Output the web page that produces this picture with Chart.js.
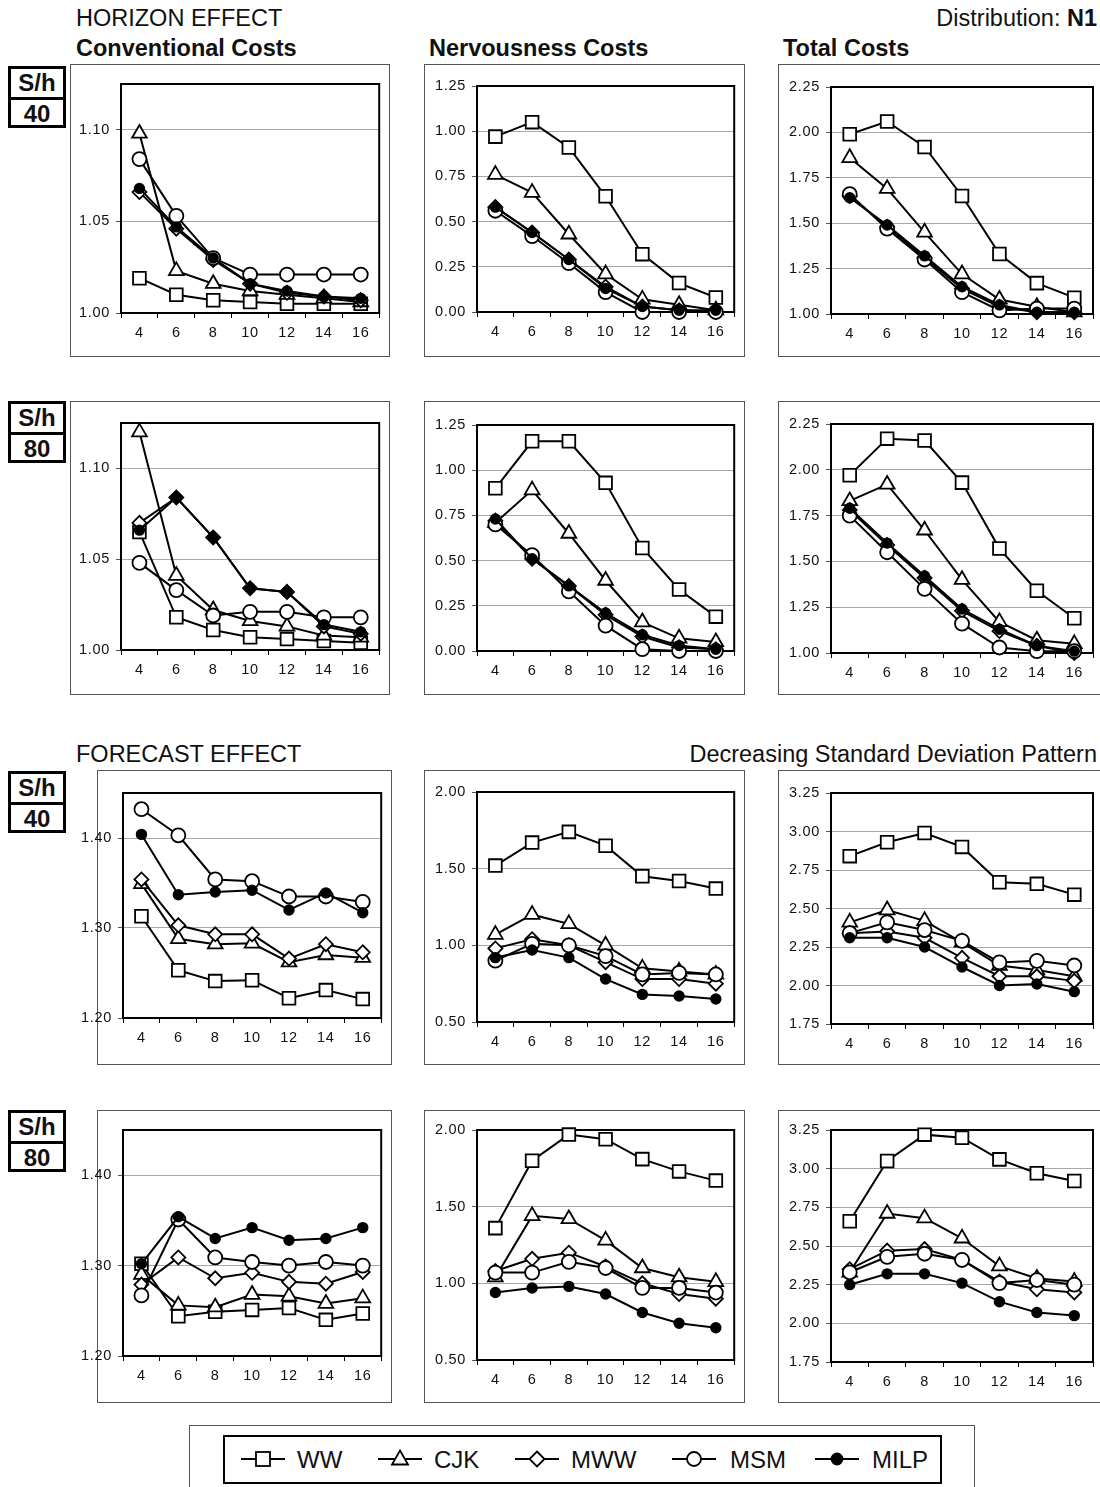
<!DOCTYPE html>
<html>
<head>
<meta charset="utf-8">
<script src="https://cdn.jsdelivr.net/npm/chart.js@4.4.0/dist/chart.umd.min.js"></script>
<style>
  body { margin: 0; width: 1100px; height: 1487px; overflow: hidden; background: #fff; position: relative;
         font-family: "Liberation Sans", Arial, sans-serif; color: #111; }
  .t { position: absolute; font-size: 23.5px; line-height: 1; white-space: nowrap; }
  .b { font-weight: bold; }
  .panel { position: absolute; border: 1px solid #555; box-sizing: border-box; }
  .plot { position: absolute; }
  .sh { position: absolute; left: 8px; width: 58px; height: 62px; border: 3px solid #000; box-sizing: border-box;
        font-weight: bold; font-size: 24px; text-align: center; }
  .sh div { height: 28px; line-height: 28px; }
  .sh div:first-child { border-bottom: 3px solid #000; }
  #legendOuter { position: absolute; left: 189px; top: 1425px; width: 786px; height: 80px; border: 1px solid #555; box-sizing: border-box; }
  #legend { position: absolute; left: 0; top: 1420px; }
</style>
</head>
<body>

<div class="t" style="left:76px;top:7px">HORIZON EFFECT</div>
<div class="t" style="right:3px;top:7px">Distribution: <b>N1</b></div>
<div class="t b" style="left:76px;top:37px">Conventional Costs</div>
<div class="t b" style="left:429px;top:37px">Nervousness Costs</div>
<div class="t b" style="left:783px;top:37px">Total Costs</div>
<div class="t" style="left:76px;top:743px">FORECAST EFFECT</div>
<div class="t" style="right:3px;top:743px">Decreasing Standard Deviation Pattern</div>

<div class="sh" style="top:66px"><div>S/h</div><div>40</div></div>
<div class="sh" style="top:401px"><div>S/h</div><div>80</div></div>
<div class="sh" style="top:771px"><div>S/h</div><div>40</div></div>
<div class="sh" style="top:1110px"><div>S/h</div><div>80</div></div>

<div id="panels"></div>
<div id="legendOuter"></div>
<svg id="legend" width="1100" height="67"></svg>

<script>
// categories (planning horizon) and series
const xLabels = ['4', '6', '8', '10', '12', '14', '16'];
const seriesNames = ['WW', 'CJK', 'MWW', 'MSM', 'MILP'];

// rows: WW, CJK, MWW, MSM, MILP
// horizon effect, S/h 40
const h40Conv = [
  [1.019, 1.010, 1.007, 1.006, 1.005, 1.005, 1.005],
  [1.098, 1.023, 1.016, 1.012, 1.010, 1.008, 1.006],
  [1.066, 1.046, 1.029, 1.016, 1.011, 1.009, 1.007],
  [1.084, 1.053, 1.030, 1.021, 1.021, 1.021, 1.021],
  [1.068, 1.047, 1.030, 1.016, 1.012, 1.009, 1.008]
];
const h40Nerv = [
  [0.97, 1.05, 0.91, 0.64, 0.32, 0.16, 0.08],
  [0.76, 0.66, 0.43, 0.21, 0.07, 0.04, 0.01],
  [0.58, 0.44, 0.29, 0.14, 0.03, 0.01, 0.00],
  [0.56, 0.42, 0.27, 0.11, 0.00, 0.00, 0.00],
  [0.58, 0.44, 0.29, 0.13, 0.03, 0.01, 0.01]
];
const h40Total = [
  [1.99, 2.06, 1.92, 1.65, 1.33, 1.17, 1.09],
  [1.86, 1.69, 1.45, 1.22, 1.08, 1.04, 1.01],
  [1.65, 1.48, 1.31, 1.14, 1.04, 1.01, 1.01],
  [1.66, 1.47, 1.30, 1.12, 1.02, 1.03, 1.03],
  [1.64, 1.49, 1.32, 1.15, 1.05, 1.01, 1.01]
];
// horizon effect, S/h 80
const h80Conv = [
  [1.065, 1.018, 1.011, 1.007, 1.006, 1.005, 1.004],
  [1.120, 1.041, 1.022, 1.016, 1.013, 1.008, 1.007],
  [1.070, 1.084, 1.062, 1.034, 1.032, 1.013, 1.009],
  [1.048, 1.033, 1.019, 1.021, 1.021, 1.018, 1.018],
  [1.066, 1.084, 1.062, 1.034, 1.032, 1.014, 1.010]
];
const h80Nerv = [
  [0.90, 1.16, 1.16, 0.93, 0.57, 0.34, 0.19],
  [0.71, 0.89, 0.65, 0.39, 0.16, 0.07, 0.05],
  [0.72, 0.51, 0.36, 0.20, 0.08, 0.02, 0.01],
  [0.70, 0.53, 0.33, 0.14, 0.01, 0.00, 0.00],
  [0.73, 0.51, 0.36, 0.21, 0.09, 0.03, 0.01]
];
const h80Total = [
  [1.97, 2.17, 2.16, 1.93, 1.57, 1.34, 1.19],
  [1.83, 1.92, 1.67, 1.40, 1.17, 1.07, 1.05],
  [1.78, 1.59, 1.41, 1.23, 1.12, 1.04, 1.00],
  [1.75, 1.55, 1.35, 1.16, 1.03, 1.01, 1.01],
  [1.79, 1.60, 1.42, 1.24, 1.13, 1.04, 1.01]
];
// forecast effect, S/h 40
const f40Conv = [
  [1.313, 1.253, 1.241, 1.242, 1.222, 1.231, 1.221],
  [1.349, 1.288, 1.282, 1.283, 1.262, 1.270, 1.267],
  [1.354, 1.303, 1.293, 1.293, 1.266, 1.282, 1.273],
  [1.432, 1.403, 1.354, 1.352, 1.335, 1.335, 1.329],
  [1.404, 1.337, 1.340, 1.342, 1.320, 1.339, 1.317]
];
const f40Nerv = [
  [1.52, 1.67, 1.74, 1.65, 1.45, 1.42, 1.37],
  [1.07, 1.20, 1.14, 1.00, 0.85, 0.83, 0.81],
  [0.98, 1.04, 1.00, 0.89, 0.78, 0.78, 0.75],
  [0.90, 1.01, 1.00, 0.93, 0.81, 0.82, 0.81],
  [0.92, 0.97, 0.92, 0.78, 0.68, 0.67, 0.65]
];
const f40Total = [
  [2.84, 2.93, 2.99, 2.90, 2.67, 2.66, 2.59],
  [2.41, 2.49, 2.42, 2.28, 2.13, 2.10, 2.06],
  [2.34, 2.35, 2.31, 2.18, 2.06, 2.06, 2.03],
  [2.34, 2.41, 2.36, 2.29, 2.15, 2.16, 2.13],
  [2.31, 2.31, 2.25, 2.12, 2.00, 2.01, 1.96]
];
// forecast effect, S/h 80
const f80Conv = [
  [1.302, 1.244, 1.249, 1.251, 1.253, 1.240, 1.247],
  [1.290, 1.256, 1.254, 1.268, 1.266, 1.258, 1.264],
  [1.279, 1.309, 1.286, 1.292, 1.282, 1.280, 1.293],
  [1.267, 1.351, 1.309, 1.304, 1.300, 1.304, 1.300],
  [1.302, 1.354, 1.330, 1.342, 1.328, 1.330, 1.342]
];
const f80Nerv = [
  [1.36, 1.80, 1.97, 1.94, 1.81, 1.73, 1.67],
  [1.04, 1.44, 1.42, 1.28, 1.10, 1.04, 1.01],
  [1.08, 1.16, 1.20, 1.11, 1.00, 0.93, 0.90],
  [1.07, 1.07, 1.14, 1.10, 0.97, 0.97, 0.94],
  [0.94, 0.97, 0.98, 0.93, 0.81, 0.74, 0.71]
];
const f80Total = [
  [2.66, 3.05, 3.22, 3.20, 3.06, 2.97, 2.92],
  [2.33, 2.71, 2.68, 2.55, 2.37, 2.29, 2.27],
  [2.35, 2.47, 2.48, 2.41, 2.27, 2.22, 2.20],
  [2.33, 2.43, 2.45, 2.41, 2.26, 2.28, 2.25],
  [2.25, 2.32, 2.32, 2.26, 2.14, 2.07, 2.05]
];

// y axis ranges [min, max, step]
const convRangeH = [1.00, 1.125, 0.05];
const nervRangeH = [0.00, 1.25, 0.25];
const totalRangeH = [1.00, 2.25, 0.25];
const convRangeF = [1.20, 1.45, 0.10];
const nervRangeF = [0.50, 2.00, 0.50];
const totalRangeF = [1.75, 3.25, 0.25];

const seriesStyle = {
  WW:   { pointStyle: 'rect',     radius: 9,   fill: '#fff' },
  CJK:  { pointStyle: 'triangle', radius: 8.5, fill: '#fff' },
  MWW:  { pointStyle: 'rectRot',  radius: 7,   fill: '#fff' },
  MSM:  { pointStyle: 'circle',   radius: 7,   fill: '#fff' },
  MILP: { pointStyle: 'circle',   radius: 4.8, fill: '#000' }
};

// panel boxes [x, y, w, h] and plot areas [left, top, right, bottom] (page pixels)
const panels = [
  { data: h40Conv,  range: convRangeH,  box: [70, 64, 320, 293],   plot: [121, 84, 382, 313] },
  { data: h40Nerv,  range: nervRangeH,  box: [424, 64, 321, 293],  plot: [477, 86, 738, 312] },
  { data: h40Total, range: totalRangeH, box: [778, 64, 330, 293],  plot: [831, 87, 1093, 314] },
  { data: h80Conv,  range: convRangeH,  box: [70, 401, 320, 294],  plot: [121, 423, 382, 650] },
  { data: h80Nerv,  range: nervRangeH,  box: [424, 401, 321, 294], plot: [477, 425, 738, 651] },
  { data: h80Total, range: totalRangeH, box: [778, 401, 330, 294], plot: [831, 424, 1093, 653] },
  { data: f40Conv,  range: convRangeF,  box: [97, 770, 295, 295],  plot: [123, 793, 383, 1018] },
  { data: f40Nerv,  range: nervRangeF,  box: [424, 770, 321, 295], plot: [477, 792, 740, 1022] },
  { data: f40Total, range: totalRangeF, box: [778, 770, 330, 295], plot: [831, 793, 1093, 1024] },
  { data: f80Conv,  range: convRangeF,  box: [97, 1110, 295, 293], plot: [123, 1130, 383, 1356] },
  { data: f80Nerv,  range: nervRangeF,  box: [424, 1110, 321, 293], plot: [477, 1130, 740, 1360] },
  { data: f80Total, range: totalRangeF, box: [778, 1110, 330, 293], plot: [831, 1130, 1093, 1362] }
];

// black frame round the plot area, under the markers
const framePlugin = {
  id: 'frame',
  beforeDraw(chart) {
    chart.ctx.letterSpacing = '0.7px';
  },
  beforeDatasetsDraw(chart) {
    const { ctx, chartArea: a } = chart;
    ctx.save();
    ctx.strokeStyle = '#000';
    ctx.lineWidth = 2;
    ctx.strokeRect(a.left, a.top, a.right - a.left, a.bottom - a.top);
    ctx.restore();
  }
};

const tickFont = { family: '"Liberation Sans", Arial, sans-serif', size: 14.5 };
const host = document.getElementById('panels');
const labelRoom = 45; // canvas starts left of the box so y labels may stick out

panels.forEach(function (p) {
  const [bx, by, bw, bh] = p.box;
  const [pl, pt, pr, pb] = p.plot;
  const [yMin, yMax, yStep] = p.range;

  const div = document.createElement('div');
  div.className = 'panel';
  div.style.left = bx + 'px';
  div.style.top = by + 'px';
  div.style.width = bw + 'px';
  div.style.height = bh + 'px';
  host.appendChild(div);

  const cx = bx - labelRoom;
  const cw = bw + labelRoom;
  const canvas = document.createElement('canvas');
  canvas.className = 'plot';
  canvas.width = cw;
  canvas.height = bh;
  canvas.style.left = cx + 'px';
  canvas.style.top = by + 'px';
  canvas.style.width = cw + 'px';
  canvas.style.height = bh + 'px';
  host.appendChild(canvas);

  const yWidth = pl - cx;
  const xHeight = by + bh - pb;

  const datasets = seriesNames.map(function (name, i) {
    const s = seriesStyle[name];
    return {
      label: name,
      data: p.data[i],
      borderColor: '#000',
      borderWidth: 2,
      pointStyle: s.pointStyle,
      pointRadius: s.radius,
      pointBackgroundColor: s.fill,
      pointBorderColor: '#000',
      pointBorderWidth: 1.8,
      tension: 0,
      clip: false,
      order: seriesNames.length - i
    };
  });

  new Chart(canvas.getContext('2d'), {
    type: 'line',
    data: { labels: xLabels, datasets: datasets },
    plugins: [framePlugin],
    options: {
      responsive: false,
      animation: false,
      devicePixelRatio: 1,
      layout: { padding: { top: pt - by, right: cx + cw - pr, left: 0, bottom: 0 } },
      plugins: { legend: { display: false }, tooltip: { enabled: false } },
      scales: {
        x: {
          offset: true,
          grid: { offset: true, drawOnChartArea: false, drawTicks: true, tickLength: 5, color: '#000', lineWidth: 1 },
          border: { display: false },
          ticks: { font: tickFont, color: '#111', padding: 6, maxRotation: 0, autoSkip: false },
          afterFit: function (scale) { scale.height = xHeight; }
        },
        y: {
          min: yMin,
          max: yMax,
          bounds: 'data',
          grid: { color: '#a8a8a8', lineWidth: 1, tickLength: 5, tickColor: '#555' },
          border: { display: false },
          ticks: {
            stepSize: yStep,
            includeBounds: false,
            font: tickFont,
            color: '#111',
            padding: 6,
            callback: function (v) { return Number(v).toFixed(2); }
          },
          afterFit: function (scale) { scale.width = yWidth; }
        }
      }
    }
  });
});

// legend: line with the series marker, then the name
const legendX = [241, 378, 515, 672, 815];
const legendText = [297, 434, 571, 730, 872];
const svg = document.getElementById('legend');
let html = '<rect x="224" y="16" width="717" height="47" fill="none" stroke="#000" stroke-width="2"/>';
seriesNames.forEach(function (name, i) {
  const x0 = legendX[i], x1 = x0 + 44, cx = (x0 + x1) / 2, cy = 39;
  html += '<line x1="' + x0 + '" y1="' + cy + '" x2="' + x1 + '" y2="' + cy + '" stroke="#000" stroke-width="2"/>';
  const st = 'stroke="#000" stroke-width="1.8"';
  if (name === 'WW') html += '<rect x="' + (cx - 7) + '" y="' + (cy - 7) + '" width="14" height="14" fill="#fff" ' + st + '/>';
  if (name === 'CJK') html += '<polygon points="' + cx + ',' + (cy - 8.5) + ' ' + (cx + 8) + ',' + (cy + 5.5) + ' ' + (cx - 8) + ',' + (cy + 5.5) + '" fill="#fff" ' + st + '/>';
  if (name === 'MWW') html += '<polygon points="' + cx + ',' + (cy - 7.5) + ' ' + (cx + 7.5) + ',' + cy + ' ' + cx + ',' + (cy + 7.5) + ' ' + (cx - 7.5) + ',' + cy + '" fill="#fff" ' + st + '/>';
  if (name === 'MSM') html += '<circle cx="' + cx + '" cy="' + cy + '" r="7" fill="#fff" ' + st + '/>';
  if (name === 'MILP') html += '<circle cx="' + cx + '" cy="' + cy + '" r="5.5" fill="#000" ' + st + '/>';
  html += '<text x="' + legendText[i] + '" y="' + (cy + 8.5) + '" font-family="Liberation Sans, Arial, sans-serif" font-size="24" fill="#111">' + name + '</text>';
});
svg.innerHTML = html;
</script>
</body>
</html>
